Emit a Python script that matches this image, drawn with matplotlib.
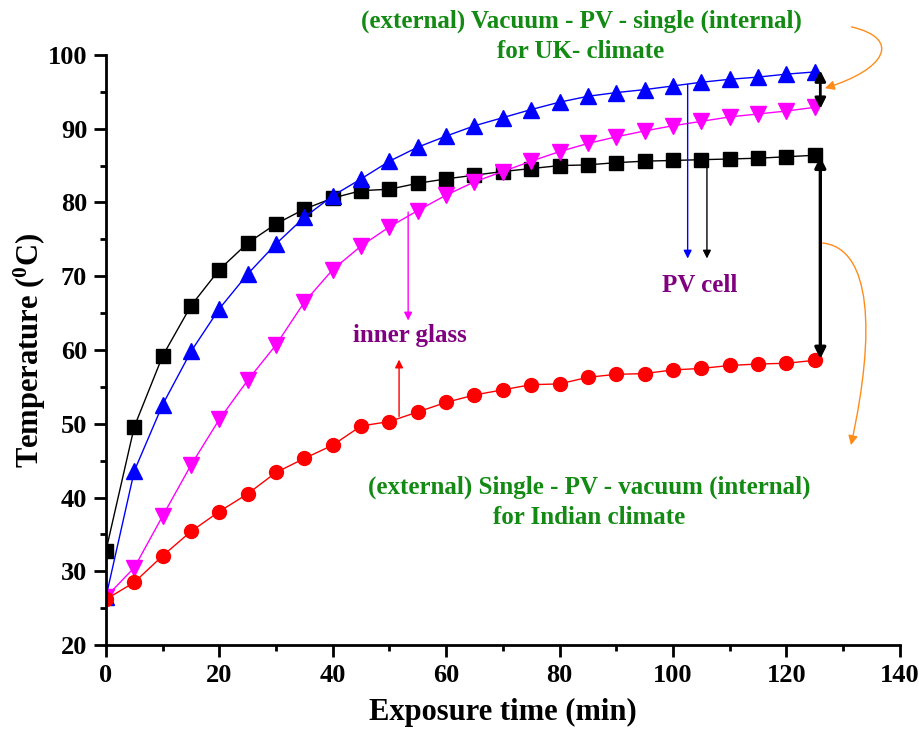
import matplotlib
matplotlib.use("Agg")
import matplotlib.pyplot as plt
from matplotlib.path import Path
from matplotlib.patches import FancyArrowPatch
from matplotlib.ticker import MultipleLocator

plt.rcParams['font.family'] = ['Liberation Serif', 'DejaVu Serif']
plt.rcParams['font.weight'] = 'bold'
plt.rcParams['mathtext.fontset'] = 'custom'
plt.rcParams['mathtext.rm'] = 'Liberation Serif:bold'
plt.rcParams['mathtext.bf'] = 'Liberation Serif:bold'
plt.rcParams['mathtext.it'] = 'Liberation Serif:bold:italic'

time_min = [0, 5, 10, 15, 20, 25, 30, 35, 40, 45, 50, 55, 60, 65, 70, 75, 80,
            85, 90, 95, 100, 105, 110, 115, 120, 125]
pv_cell_india = [32.8, 49.6, 59.2, 66.0, 70.9, 74.5, 77.1, 79.1, 80.6, 81.6, 81.8,
                 82.6, 83.2, 83.7, 84.2, 84.6, 85.0, 85.1, 85.4, 85.6, 85.7, 85.8,
                 85.9, 86.0, 86.2, 86.4]
inner_glass_india = [26.2, 28.5, 32.1, 35.4, 38.1, 40.5, 43.4, 45.3, 47.1, 49.7, 50.3,
                     51.6, 52.9, 53.9, 54.6, 55.3, 55.4, 56.3, 56.7, 56.8, 57.3, 57.5,
                     57.9, 58.1, 58.2, 58.6]
pv_cell_uk = [26.5, 43.6, 52.6, 59.8, 65.6, 70.3, 74.4, 78.0, 80.9, 83.2, 85.6, 87.5,
              89.0, 90.4, 91.5, 92.6, 93.6, 94.4, 94.9, 95.3, 95.8, 96.3, 96.7, 97.0,
              97.4, 97.7]
inner_glass_uk = [26.5, 30.5, 37.5, 44.4, 50.6, 55.9, 60.7, 66.5, 70.9, 74.1, 76.7,
                  78.9, 81.0, 82.8, 84.2, 85.6, 86.9, 88.0, 88.9, 89.7, 90.4, 91.0,
                  91.6, 92.0, 92.4, 92.9]

GREEN = '#138a13'
PURPLE = '#800080'
ORANGE = '#ff8c1a'

fig = plt.figure(figsize=(9.19, 7.29), dpi=100)
ax = fig.add_axes([0.1153, 0.1152, 0.979 - 0.1153, 0.9246 - 0.1152])

ax.plot(time_min, pv_cell_india, color='black', lw=1, marker='s', ms=9.5)
ax.plot(time_min, pv_cell_uk, color='blue', lw=1, marker='^', ms=11)
ax.plot(time_min, inner_glass_uk, color='magenta', lw=1, marker='v', ms=11)
ax.plot(time_min, inner_glass_india, color='red', lw=1, marker='o', ms=10)

ax.set_xlim(0, 140)
ax.set_ylim(20, 100)
ax.xaxis.set_major_locator(MultipleLocator(20))
ax.xaxis.set_minor_locator(MultipleLocator(10))
ax.yaxis.set_major_locator(MultipleLocator(10))
ax.yaxis.set_minor_locator(MultipleLocator(5))
for s in ['top', 'right']:
    ax.spines[s].set_visible(False)
for s in ['left', 'bottom']:
    ax.spines[s].set_linewidth(2)
ax.tick_params(which='major', direction='out', length=8.5, width=2, labelsize=19, pad=5)
ax.tick_params(which='minor', direction='out', length=4.5, width=2)

ax.set_xlabel('Exposure time (min)', fontsize=22, fontweight='bold', labelpad=8)
ax.set_ylabel(r'Temperature ($^{0}$C)', fontsize=22, fontweight='bold', labelpad=0)

# text annotations
FS = 18
ax.text(83.8, 103.66, '(external) Vacuum - PV - single (internal)', color=GREEN,
        fontsize=FS, fontweight='bold', ha='center', va='baseline', clip_on=False)
ax.text(83.8, 99.6, 'for UK- climate', color=GREEN,
        fontsize=FS, fontweight='bold', ha='center', va='baseline', clip_on=False)
ax.text(85.3, 40.6, '(external) Single - PV - vacuum (internal)', color=GREEN,
        fontsize=FS, fontweight='bold', ha='center', va='baseline')
ax.text(85.2, 36.4, 'for Indian climate', color=GREEN,
        fontsize=FS, fontweight='bold', ha='center', va='baseline')
ax.text(104.7, 67.9, 'PV cell', color=PURPLE, fontsize=FS, fontweight='bold',
        ha='center', va='baseline')
ax.text(53.6, 61.1, 'inner glass', color=PURPLE, fontsize=FS, fontweight='bold',
        ha='center', va='baseline')

# thin pointer arrows
def arrow(x0, y0, x1, y1, color, lw=1.0, style='-|>', ms=12):
    a = FancyArrowPatch((x0, y0), (x1, y1), arrowstyle=style, color=color,
                        lw=lw, mutation_scale=ms, shrinkA=0, shrinkB=0,
                        clip_on=False, zorder=5)
    ax.add_patch(a)

arrow(102.6, 96.0, 102.6, 72.4, 'blue')
arrow(106.0, 85.8, 106.0, 72.4, 'black')
arrow(53.3, 78.7, 53.3, 64.0, 'magenta')
arrow(51.7, 51.0, 51.7, 58.7, 'red')

# double arrows between curves
arrow(126.0, 92.7, 126.0, 97.9, 'black', lw=2.0, style='<|-|>', ms=16)
arrow(126.0, 58.8, 126.0, 86.2, 'black', lw=2.4, style='<|-|>', ms=16)

# orange curved arrows
def curve(verts, color):
    p = Path(verts, [Path.MOVETO, Path.CURVE4, Path.CURVE4, Path.CURVE4])
    a = FancyArrowPatch(path=p, arrowstyle='-|>', color=color, lw=1.0,
                        mutation_scale=14, clip_on=False)
    ax.add_patch(a)

curve([(131.5, 103.8), (140.5, 102.2), (137.5, 98.0), (126.8, 95.5)], ORANGE)
curve([(126.4, 74.5), (135.0, 73.8), (135.8, 62.5), (131.4, 47.1)], ORANGE)

fig.savefig('out.png', dpi=100)
